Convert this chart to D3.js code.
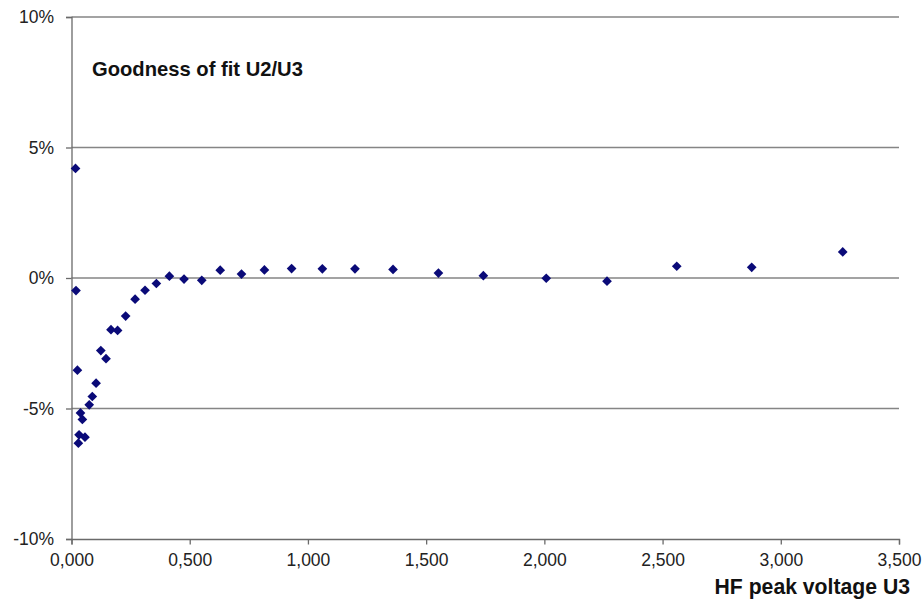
<!DOCTYPE html>
<html>
<head>
<meta charset="utf-8">
<script src="https://cdn.jsdelivr.net/npm/d3@7"></script>
<style>
  html, body { margin: 0; padding: 0; background: #fff; }
  svg { display: block; font-family: "Liberation Sans", Arial, sans-serif; }
</style>
</head>
<body>
<svg id="chart" width="924" height="603"></svg>
<script>
// HF peak voltage U3 (x) against the relative fit deviation in percent (y)
const voltageU3 = [
  0.017, 0.019, 0.025, 0.038, 0.046, 0.032, 0.057, 0.029,
  0.075, 0.088, 0.104, 0.124, 0.146, 0.167, 0.195, 0.229,
  0.269, 0.311, 0.359, 0.414, 0.476, 0.551, 0.629, 0.719,
  0.816, 0.931, 1.061, 1.199, 1.360, 1.552, 1.742, 2.008,
  2.265, 2.560, 2.877, 3.262
];
const fitDeviation = [
  4.20, -0.48, -3.53, -5.17, -5.42, -6.01, -6.10, -6.33,
  -4.86, -4.54, -4.03, -2.78, -3.09, -1.98, -2.01, -1.46,
  -0.81, -0.47, -0.21, 0.07, -0.04, -0.09, 0.30, 0.15,
  0.31, 0.36, 0.35, 0.35, 0.33, 0.19, 0.09, -0.01,
  -0.12, 0.45, 0.41, 1.00
];
const xTicks = [0, 0.5, 1, 1.5, 2, 2.5, 3, 3.5];
const yTicks = [-10, -5, 0, 5, 10];
const chartTitle = "Goodness of fit U2/U3";
const xAxisTitle = "HF peak voltage U3";

const svg = d3.select("#chart");
const plot = { left: 71.5, right: 899, top: 17, bottom: 539 };

const x = d3.scaleLinear().domain([0, 3.5]).range([plot.left, plot.right]);
const y = d3.scaleLinear().domain([-10, 10]).range([plot.bottom, plot.top]);

// decimal comma on x, plain hyphen as minus sign on y
const fmtX = v => v.toFixed(3).replace(".", ",");
const fmtY = v => String(v) + "%";

// horizontal gridlines
svg.append("g")
  .selectAll("line")
  .data(yTicks.filter(t => t !== -10))
  .join("line")
  .attr("x1", plot.left).attr("x2", plot.right)
  .attr("y1", d => y(d)).attr("y2", d => y(d))
  .attr("stroke", "#858585").attr("stroke-width", 1.3);

// y axis
const yAxis = svg.append("g")
  .attr("transform", `translate(${plot.left},0)`)
  .call(d3.axisLeft(y).tickValues(yTicks).tickFormat(fmtY).tickSize(5.5).tickPadding(12));
yAxis.select(".domain").attr("stroke", "#6a6a6a").attr("stroke-width", 1.3);
yAxis.selectAll(".tick line").attr("stroke", "#6a6a6a").attr("stroke-width", 1.3);
yAxis.selectAll(".tick text")
  .attr("font-size", 17.5).attr("fill", "#222")
  .attr("font-family", "Liberation Sans, Arial, sans-serif");

// x axis
const xAxis = svg.append("g")
  .attr("transform", `translate(0,${plot.bottom})`)
  .call(d3.axisBottom(x).tickValues(xTicks).tickFormat(fmtX).tickSize(5.5).tickPadding(9));
xAxis.select(".domain").attr("stroke", "#6a6a6a").attr("stroke-width", 1.3);
xAxis.selectAll(".tick line").attr("stroke", "#6a6a6a").attr("stroke-width", 1.3);
xAxis.selectAll(".tick text")
  .attr("font-size", 17.5).attr("fill", "#222")
  .attr("font-family", "Liberation Sans, Arial, sans-serif");

// diamond markers
const diamond = d3.symbol().type(d3.symbolDiamond2).size(60);
svg.append("g")
  .selectAll("path")
  .data(voltageU3.map((v, i) => [v, fitDeviation[i]]))
  .join("path")
  .attr("d", diamond)
  .attr("transform", d => `translate(${x(d[0])},${y(d[1])})`)
  .attr("fill", "#0a0a78");

// titles
svg.append("text")
  .attr("x", 92).attr("y", 76)
  .attr("font-size", 20.2).attr("font-weight", "bold").attr("fill", "#111")
  .text(chartTitle);

svg.append("text")
  .attr("x", 910).attr("y", 594)
  .attr("text-anchor", "end")
  .attr("font-size", 21.2).attr("font-weight", "bold").attr("fill", "#111")
  .text(xAxisTitle);
</script>
</body>
</html>
